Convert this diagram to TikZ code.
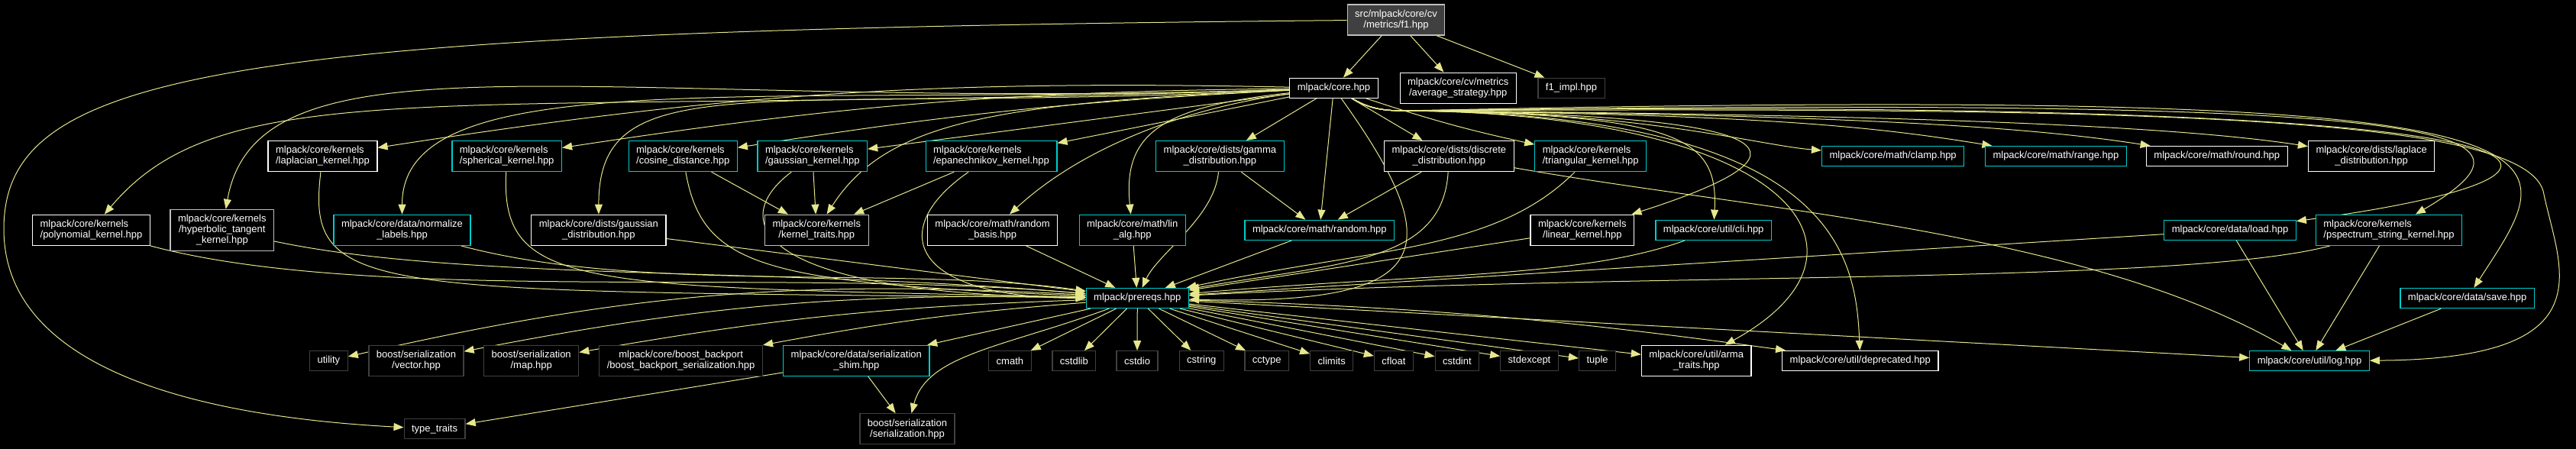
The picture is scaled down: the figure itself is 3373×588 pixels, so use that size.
\documentclass[tikz,border=0pt]{standalone}
\usepackage{fontspec}
\setmainfont{Liberation Sans}
\usetikzlibrary{arrows.meta,backgrounds}
\definecolor{edgeyel}{RGB}{230,230,140}
\definecolor{docblue}{RGB}{0,205,205}
\definecolor{extgrey}{RGB}{64,64,64}
\definecolor{lightgrey}{RGB}{191,191,191}

\begin{document}
\begin{tikzpicture}[x=0.25pt,y=0.25pt,
    hdr/.style={draw=white,fill=black,text=white,line width=0.3pt,align=center,
      inner xsep=2.5pt,inner ysep=1.75pt,minimum height=6.4pt,font=\fontsize{3.25}{3.5}\selectfont},
    hdrdoc/.style={hdr,draw=docblue},
    hdrgrey/.style={hdr,draw=lightgrey},
    hdrext/.style={hdr,draw=extgrey},
    hdrroot/.style={hdr,draw=lightgrey,fill=extgrey},
    dep/.style={draw=edgeyel,line width=0.25pt,-{Triangle[length=3.25pt,width=2.5pt]}}]
\useasboundingbox (0,0) rectangle (3373,-588);

\node[hdrroot] (F1) at (1828,-26) {src/mlpack/core/cv\\/metrics/f1.hpp};
\node[hdr] (Core) at (1746.5,-115.3) {mlpack/core.hpp};
\node[hdr] (AvgStrat) at (1909.2,-115.2) {mlpack/core/cv/metrics\\/average\_strategy.hpp};
\node[hdrext] (FImpl) at (2057.5,-115.3) {f1\_impl.hpp};

\node[hdr,align=left] (LapK) at (422.5,-204.6) {mlpack/core/kernels\\/laplacian\_kernel.hpp};
\node[hdrdoc,align=left] (SphK) at (663.7,-204.6) {mlpack/core/kernels\\/spherical\_kernel.hpp};
\node[hdrdoc,align=left] (CosD) at (894.2,-204.6) {mlpack/core/kernels\\/cosine\_distance.hpp};
\node[hdrdoc,align=left] (GaussK) at (1063.8,-204.6) {mlpack/core/kernels\\/gaussian\_kernel.hpp};
\node[hdrdoc,align=left] (EpaK) at (1298,-204.6) {mlpack/core/kernels\\/epanechnikov\_kernel.hpp};
\node[hdrdoc] (GammaD) at (1597.4,-204.6) {mlpack/core/dists/gamma\\\_distribution.hpp};
\node[hdr] (DiscD) at (1897.4,-204.6) {mlpack/core/dists/discrete\\\_distribution.hpp};
\node[hdrdoc,align=left] (TriK) at (2082.7,-204.6) {mlpack/core/kernels\\/triangular\_kernel.hpp};
\node[hdrdoc] (Clamp) at (2478.6,-204.6) {mlpack/core/math/clamp.hpp};
\node[hdrdoc] (Range) at (2691.9,-204.6) {mlpack/core/math/range.hpp};
\node[hdr] (Round) at (2902.8,-204.6) {mlpack/core/math/round.hpp};
\node[hdr] (LaplD) at (3105.1,-204.6) {mlpack/core/dists/laplace\\\_distribution.hpp};

\node[hdr,align=left] (PolyK) at (119.5,-301.3) {mlpack/core/kernels\\/polynomial\_kernel.hpp};
\node[hdrgrey] (HypK) at (290.8,-301.5) {mlpack/core/kernels\\/hyperbolic\_tangent\\\_kernel.hpp};
\node[hdrdoc] (NormLab) at (526.5,-301.3) {mlpack/core/data/normalize\\\_labels.hpp};
\node[hdr] (GaussD) at (783.9,-301.3) {mlpack/core/dists/gaussian\\\_distribution.hpp};
\node[hdrgrey] (KTraits) at (1069.3,-301.3) {mlpack/core/kernels\\/kernel\_traits.hpp};
\node[hdr] (RandB) at (1299.6,-301.3) {mlpack/core/math/random\\\_basis.hpp};
\node[hdrdoc] (LinAlg) at (1482.7,-301.3) {mlpack/core/math/lin\\\_alg.hpp};
\node[hdrdoc] (Rand) at (1727.8,-301.3) {mlpack/core/math/random.hpp};
\node[hdr] (LinK) at (2071.8,-301.3) {mlpack/core/kernels\\/linear\_kernel.hpp};
\node[hdrdoc] (Cli) at (2243.7,-301.3) {mlpack/core/util/cli.hpp};
\node[hdrdoc] (Load) at (2920,-301.3) {mlpack/core/data/load.hpp};
\node[hdrdoc,align=left] (PspK) at (3128,-301.3) {mlpack/core/kernels\\/pspectrum\_string\_kernel.hpp};

\node[hdrdoc] (Prereqs) at (1489.3,-390.5) {mlpack/prereqs.hpp};
\node[hdrdoc] (Save) at (3230.6,-390.5) {mlpack/core/data/save.hpp};

\foreach \hname/\hx in {utility/430.4,cmath/1322.4,cstdlib/1406.4,cstdio/1489,cstring/1573.3,cctype/1658.7,climits/1743.7,cfloat/1825,cstdint/1907.9,stdexcept/2002.5,tuple/2091.6}
  \node[hdrext] (\hname) at (\hx,-472.5) {\hname};
\node[hdrext] (Vec) at (545,-472.3) {boost/serialization\\/vector.hpp};
\node[hdrext] (Map) at (695.7,-472.3) {boost/serialization\\/map.hpp};
\node[hdrext] (Backport) at (891.6,-472.3) {mlpack/core/boost\_backport\\/boost\_backport\_serialization.hpp};
\node[hdrdoc] (Shim) at (1121.3,-472.3) {mlpack/core/data/serialization\\\_shim.hpp};
\node[hdr] (ArmaT) at (2221.2,-472.3) {mlpack/core/util/arma\\\_traits.hpp};
\node[hdr] (Depr) at (2435.8,-472.5) {mlpack/core/util/deprecated.hpp};
\node[hdrdoc] (Log) at (3024,-472.7) {mlpack/core/util/log.hpp};
\node[hdrext] (TypeT) at (569.1,-561.8) {type\_traits};
\node[hdrext] (Ser) at (1188,-561.8) {boost/serialization\\/serialization.hpp};

\coordinate (TTBend) at (5,-300);
\coordinate (CoreR) at (1840,-145);
\coordinate (LogBend) at (3330,-250);

\begin{scope}[on background layer]
\fill[black] (0,0) rectangle (3373,-588);

\foreach \t in {Core,AvgStrat,FImpl} \draw[dep] (F1) -- (\t);
\draw[dep] (F1) .. controls (300,-40) and (5,-90) .. (TTBend) .. controls (5,-480) and (250,-545) .. (TypeT);

\draw[dep] (Core) .. controls (588,-155) and (297,-90) .. (PolyK);
\draw[dep] (Core) .. controls (788,-148) and (339,-28) .. (HypK);
\draw[dep] (Core) to[bend right=5] (LapK);
\draw[dep] (Core) to[bend right=4] (SphK);
\draw[dep] (Core) .. controls (987,-141) and (526.5,-81) .. (NormLab);
\draw[dep] (Core) to[bend right=3] (CosD);
\draw[dep] (Core) .. controls (988,-151) and (783.9,-81) .. (GaussD);
\draw[dep] (Core) -- (GaussK);
\draw[dep] (Core) .. controls (1300,-135) and (1160,-160) .. (KTraits);
\draw[dep] (Core) -- (EpaK);
\draw[dep] (Core) .. controls (1560,-140) and (1420,-190) .. (RandB);
\draw[dep] (Core) .. controls (1520,-140) and (1470,-175) .. (LinAlg);
\foreach \t in {GammaD,Rand,DiscD} \draw[dep] (Core) -- (\t);
\draw[dep] (Core) to[bend right=3] (TriK);
\draw[dep] (Core) .. controls (1900,-330) and (1880,-400) .. (Prereqs);

\draw[dep] (Core) to[out=-30,in=180] (CoreR) .. controls (2150,-145) and (2300,-190) .. (Clamp);
\draw[dep] (Core) to[out=-30,in=180] (CoreR) .. controls (2300,-150) and (2450,-165) .. (Range);
\draw[dep] (Core) to[out=-30,in=180] (CoreR) .. controls (2400,-150) and (2650,-165) .. (Round);
\draw[dep] (Core) to[out=-30,in=180] (CoreR) .. controls (2500,-150) and (2850,-165) .. (LaplD);
\draw[dep] (Core) to[out=-30,in=180] (CoreR) .. controls (2300,-150) and (2420,-190) .. (LinK);
\draw[dep] (Core) to[out=-30,in=180] (CoreR) .. controls (2200,-150) and (2250,-180) .. (Cli);
\draw[dep] (Core) to[out=-30,in=180] (CoreR) .. controls (2350,-150) and (2480,-330) .. (ArmaT);
\draw[dep] (Core) to[out=-30,in=180] (CoreR) .. controls (2400,-150) and (2430,-330) .. (Depr);
\draw[dep] (Core) to[out=-30,in=180] (CoreR) .. controls (3500,-125) and (3450,-230) .. (Load);
\draw[dep] (Core) to[out=-30,in=180] (CoreR) .. controls (3250,-125) and (3350,-170) .. (PspK);
\draw[dep] (Core) to[out=-30,in=180] (CoreR) .. controls (3450,-110) and (3360,-190) .. (Save);
\draw[dep] (Core) to[out=-30,in=180] (CoreR) .. controls (2800,-140) and (3300,-150) .. (LogBend) .. controls (3350,-350) and (3420,-470) .. (Log);

\foreach \s in {CosD,GaussK,EpaK} \draw[dep] (\s) -- (KTraits);
\foreach \s in {GammaD,DiscD} \draw[dep] (\s) -- (Rand);
\draw[dep] (DiscD) .. controls (2295,-275) and (2729,-302) .. (Log);
\foreach \s in {Load,PspK,Save} \draw[dep] (\s) -- (Log);

\draw[dep] (PolyK) .. controls (486,-399) and (1022,-350) .. (Prereqs);
\draw[dep] (HypK) .. controls (605,-368) and (1022,-350) .. (Prereqs);
\draw[dep] (LapK) .. controls (400,-390) and (480,-380) .. (Prereqs);
\draw[dep] (SphK) .. controls (655,-380) and (760,-375) .. (Prereqs);
\draw[dep] (NormLab) .. controls (840,-385) and (1177,-347) .. (Prereqs);
\draw[dep] (CosD) .. controls (920,-350) and (1000,-370) .. (Prereqs);
\draw[dep] (GaussK) .. controls (950,-290) and (990,-385) .. (Prereqs);
\draw[dep] (EpaK) .. controls (1160,-300) and (1190,-390) .. (Prereqs);
\draw[dep] (GammaD) .. controls (1590,-285) and (1516,-332) .. (Prereqs);
\draw[dep] (DiscD) .. controls (1889,-345) and (1754,-344) .. (Prereqs);
\draw[dep] (TriK) .. controls (1957,-330) and (1802,-324) .. (Prereqs);
\draw[dep] (Cli) .. controls (2068,-365) and (1857,-358) .. (Prereqs);
\draw[dep] (PspK) .. controls (2860,-373) and (2156,-356) .. (Prereqs);
\foreach \s in {GaussD,RandB,LinAlg,Rand,LinK,Load} \draw[dep] (\s) -- (Prereqs);

\draw[dep] (Prereqs) to[bend right=8] (utility);
\draw[dep] (Prereqs) to[bend right=6] (Vec);
\draw[dep] (Prereqs) to[bend right=4] (Map);
\draw[dep] (Prereqs) to[bend right=3] (Backport);
\draw[dep] (Prereqs) .. controls (1313,-455) and (1214,-464) .. (Ser);
\foreach \t in {Shim,cmath,cstdlib,cstdio,cstring,cctype,climits,cfloat,cstdint,stdexcept,tuple,ArmaT,Log} \draw[dep] (Prereqs) -- (\t);
\draw[dep] (Prereqs) to[bend left=3] (Depr);
\draw[dep] (Shim) -- (Ser);
\draw[dep] (Shim) -- (TypeT);
\end{scope}
\end{tikzpicture}
\end{document}
